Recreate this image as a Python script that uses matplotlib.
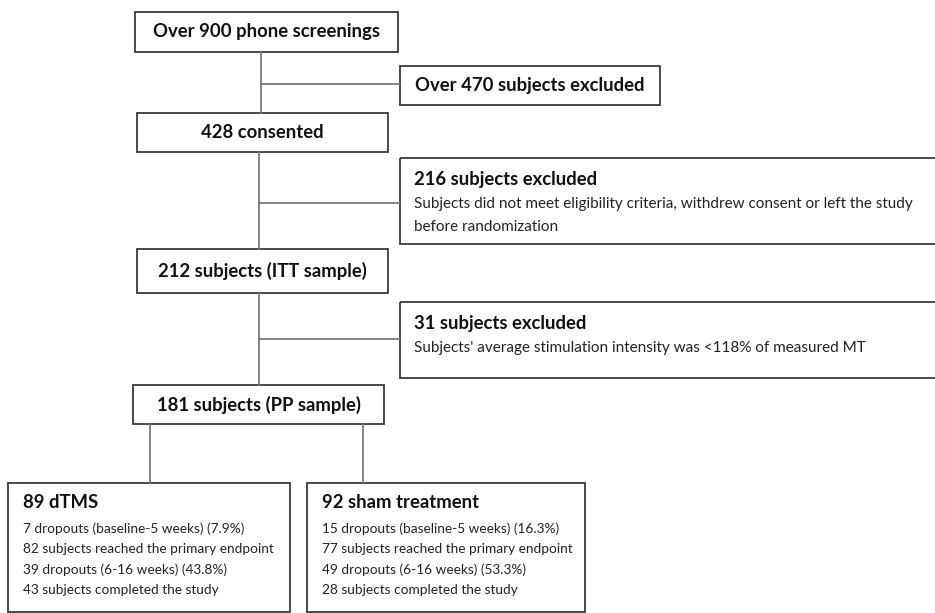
import matplotlib as mpl
mpl.use('Agg')

import matplotlib.pyplot as plt
from matplotlib.patches import Rectangle

plt.rcParams['font.family'] = ['Lato', 'DejaVu Sans']

# main column boxes: label, (x0, y0, x1, y1) in pixels
main_labels = [
    "Over 900 phone screenings",
    "428 consented",
    "212 subjects (ITT sample)",
    "181 subjects (PP sample)",
]
main_boxes = [(135, 12, 398, 52), (137, 113, 388, 152), (137, 249, 388, 293), (133, 385, 384, 424)]

# exclusion boxes on the right
excl_titles = ["Over 470 subjects excluded", "216 subjects excluded", "31 subjects excluded"]
excl_notes = [
    [],
    ["Subjects did not meet eligibility criteria, withdrew consent or left the study",
     "before randomization"],
    ["Subjects' average stimulation intensity was <118% of measured MT"],
]
excl_boxes = [(400, 66, 660, 105), (400, 158, 940, 244), (400, 302, 940, 378)]
excl_branch_y = [84, 203, 339]

# treatment arms
arm_titles = ["89 dTMS", "92 sham treatment"]
arm_lines = [
    ["7 dropouts (baseline-5 weeks) (7.9%)",
     "82 subjects reached the primary endpoint",
     "39 dropouts (6-16 weeks) (43.8%)",
     "43 subjects completed the study"],
    ["15 dropouts (baseline-5 weeks) (16.3%)",
     "77 subjects reached the primary endpoint",
     "49 dropouts (6-16 weeks) (53.3%)",
     "28 subjects completed the study"],
]
arm_boxes = [(8, 483, 290, 612), (307, 483, 585, 612)]
arm_stem_x = [150, 363]

W, H = 935, 613
fig = plt.figure(figsize=(W / 100, H / 100), dpi=100)
ax = fig.add_axes([0, 0, 1, 1])
ax.set_xlim(0, W)
ax.set_ylim(H, 0)
ax.axis('off')

box_col = '#3a3a3a'
line_col = '#707070'
title_fs = 13.3
side_fs = 10.95
arm_fs = 9.85


def box(b):
    x0, y0, x1, y1 = b
    ax.add_patch(Rectangle((x0, y0), x1 - x0, y1 - y0, fill=False,
                           edgecolor=box_col, linewidth=1.3))


for lab, b in zip(main_labels, main_boxes):
    box(b)
    ax.text((b[0] + b[2]) / 2, (b[1] + b[3]) / 2, lab, ha='center', va='center',
            fontsize=title_fs, fontweight='bold', color='#111111')

# vertical connectors between main boxes
stem_x = [261, 259, 259]
for i in range(3):
    ax.plot([stem_x[i], stem_x[i]], [main_boxes[i][3], main_boxes[i + 1][1]],
            color=line_col, lw=1.2)
    ax.plot([stem_x[i], excl_boxes[i][0]], [excl_branch_y[i], excl_branch_y[i]],
            color=line_col, lw=1.2)

for t, notes, b in zip(excl_titles, excl_notes, excl_boxes):
    box(b)
    if not notes:
        ax.text(b[0] + 15, (b[1] + b[3]) / 2, t, ha='left', va='center',
                fontsize=title_fs, fontweight='bold', color='#111111')
        continue
    ax.text(b[0] + 14, b[1] + 21, t, ha='left', va='center',
            fontsize=title_fs, fontweight='bold', color='#111111')
    for k, n in enumerate(notes):
        ax.text(b[0] + 14, b[1] + 46 + 23 * k, n, ha='left', va='center',
                fontsize=side_fs, color='#222222')

for t, lines, b, sx in zip(arm_titles, arm_lines, arm_boxes, arm_stem_x):
    box(b)
    ax.plot([sx, sx], [main_boxes[3][3], b[1]], color=line_col, lw=1.2)
    ax.text(b[0] + 15, b[1] + 20, t, ha='left', va='center',
            fontsize=title_fs, fontweight='bold', color='#111111')
    for k, n in enumerate(lines):
        ax.text(b[0] + 15, b[1] + 46 + 20.3 * k, n, ha='left', va='center',
                fontsize=arm_fs, color='#222222')

fig.savefig('out.png', dpi=100, facecolor='white')
